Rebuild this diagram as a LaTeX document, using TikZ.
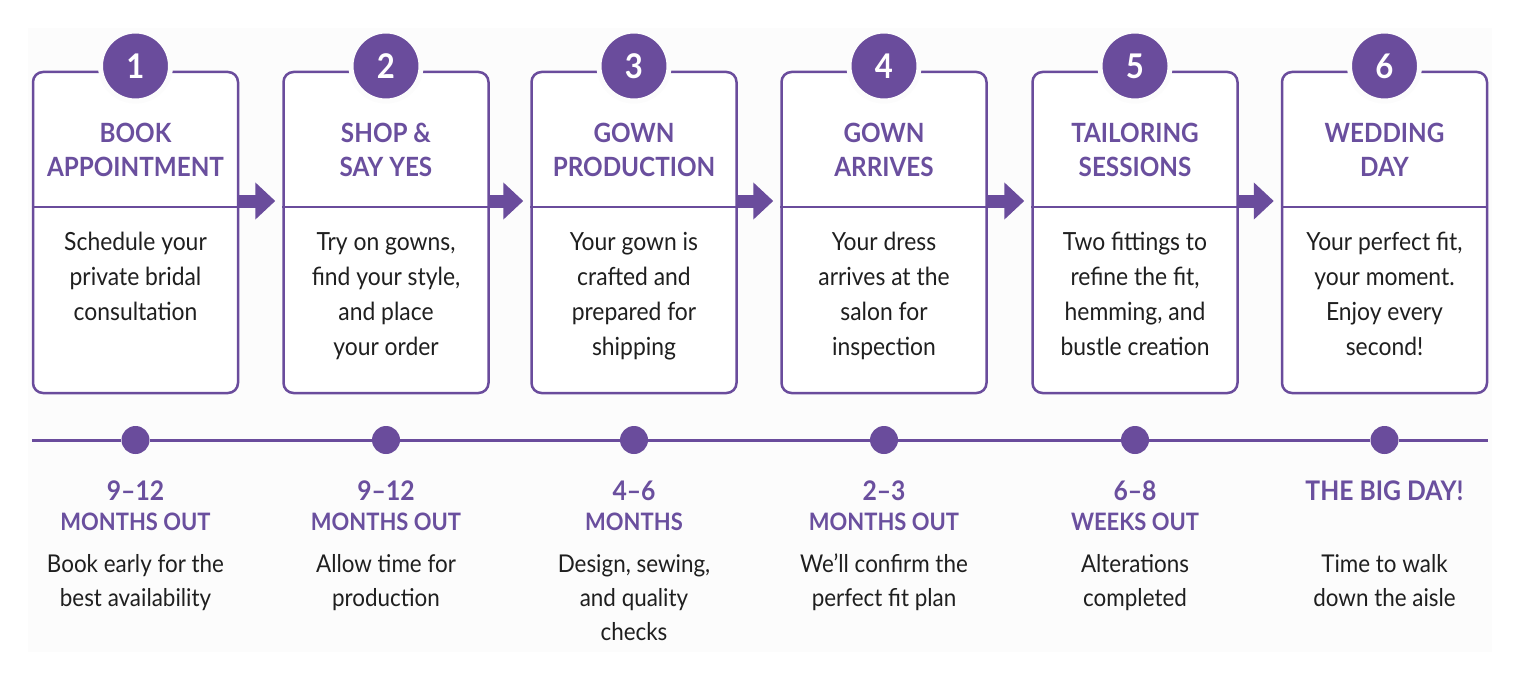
\documentclass[tikz,border=0pt]{standalone}
\usepackage{fontspec}
\setmainfont{Lato}[FakeStretch=0.915]
\usetikzlibrary{arrows.meta}
\definecolor{purp}{HTML}{6A4C9C}
\definecolor{ptext}{HTML}{6A4F9E}
\definecolor{ink}{HTML}{1F1F1F}
\definecolor{panel}{HTML}{FCFCFC}
\newcommand\mlines[1]{\begin{tabular}[t]{@{}c@{}}#1\end{tabular}}
\begin{document}
\begin{tikzpicture}[x=1pt,y=-1pt,
  card/.style={draw=purp, line width=2.5pt, rounded corners=10pt, fill=white,
    minimum width=205pt, minimum height=321pt, inner sep=0pt},
  numdisc/.style={circle, fill=purp, draw=panel, line width=5pt, minimum size=70pt,
    inner sep=0pt, text=white, font=\fontsize{34}{34}\selectfont\bfseries},
  titletext/.style={text=ptext, font=\fontsize{26.5}{34}\selectfont\bfseries,
    anchor=base, inner sep=0pt},
  bodytext/.style={text=ink, font=\fontsize{25}{35}\selectfont,
    anchor=base, inner sep=0pt},
  divider/.style={draw=purp, line width=2.5pt},
  blockarrow/.style={draw=purp, line width=13pt, -{Triangle[length=20pt,width=36pt]}, shorten >=7pt},
  tline/.style={draw=purp, line width=3pt},
  dotmark/.style={circle, fill=purp, minimum size=28pt, inner sep=0pt},
  whentext/.style={text=ptext, font=\fontsize{27}{30}\selectfont\bfseries, anchor=base, inner sep=0pt},
  unittext/.style={text=ptext, font=\fontsize{24}{30}\selectfont\bfseries, anchor=base, inner sep=0pt},
  desctext/.style={text=ink, font=\fontsize{24.5}{34}\selectfont, anchor=base, inner sep=0pt}
]
\useasboundingbox (0,0) rectangle (1520,677);
\fill[white] (0,0) rectangle (1520,677);
\fill[panel] (28,28) rectangle (1492,652);

\foreach \i/\x/\ti/\bo/\wa/\wb/\de in {
  1/135.5/{BOOK\\APPOINTMENT}/{Schedule your\\private bridal\\consultation}/{9–12}/{MONTHS OUT}/{Book early for the\\best availability},
  2/386/{SHOP \&\\SAY YES}/{Try on gowns,\\find your style,\\and place\\your order}/{9–12}/{MONTHS OUT}/{Allow time for\\production},
  3/634/{GOWN\\PRODUCTION}/{Your gown is\\crafted and\\prepared for\\shipping}/{4–6}/{MONTHS}/{Design, sewing,\\and quality\\checks},
  4/884/{GOWN\\ARRIVES}/{Your dress\\arrives at the\\salon for\\inspection}/{2–3}/{MONTHS OUT}/{We’ll confirm the\\perfect fit plan},
  5/1135/{TAILORING\\SESSIONS}/{Two fittings to\\refine the fit,\\hemming, and\\bustle creation}/{6–8}/{WEEKS OUT}/{Alterations\\completed},
  6/1384.5/{WEDDING\\DAY}/{Your perfect fit,\\your moment.\\Enjoy every\\second!}/{THE BIG DAY!}/{}/{Time to walk\\down the aisle}}
{
  \node[card] (card\i) at (\x,232.5) {};
  \draw[divider] ([yshift=25.5pt]card\i.west) -- ([yshift=25.5pt]card\i.east);
  \node[numdisc] (num\i) at (\x,66) {\i};
  \node[titletext] (title\i) at (\x,142.5) {\mlines{\ti}};
  \node[bodytext] (body\i) at (\x,250) {\mlines{\bo}};
  \node[dotmark] (dot\i) at (\x,440) {};
  \node[whentext] (when\i) at (\x,500.5) {\wa};
  \node[unittext] (unit\i) at (\x,530) {\wb};
  \node[desctext] (desc\i) at (\x,572) {\mlines{\de}};
}
\foreach \i/\j in {1/2,2/3,3/4,4/5,5/6}
  \draw[blockarrow] ([yshift=31.5pt]card\i.east) -- ([yshift=31.5pt]card\j.west);
\draw[tline] (card1.west |- dot1.center) -- (dot1.west);
\foreach \i/\j in {1/2,2/3,3/4,4/5,5/6}
  \draw[tline] (dot\i.east) -- (dot\j.west);
\draw[tline] (dot6.east) -- (card6.east |- dot6.center);
\end{tikzpicture}
\end{document}
